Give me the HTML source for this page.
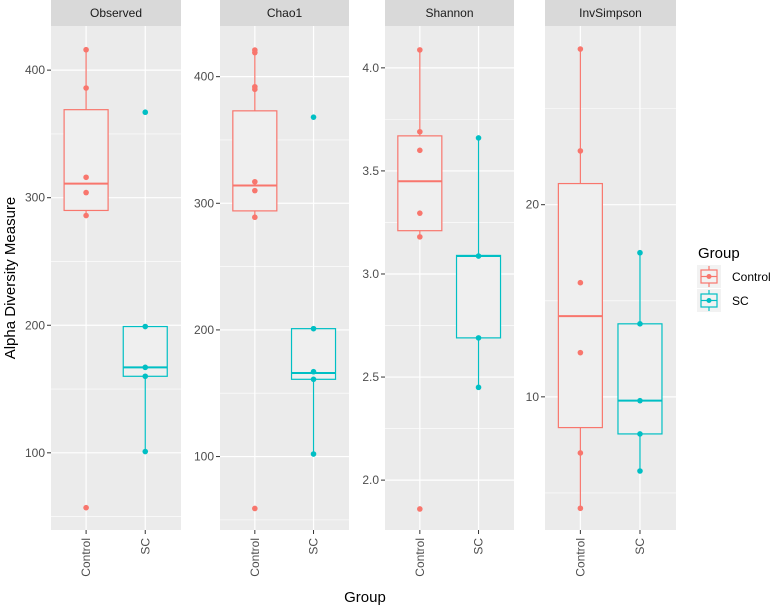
<!DOCTYPE html>
<html><head><meta charset="utf-8"><style>
body{margin:0;background:#fff;}
svg{display:block;font-family:"Liberation Sans",sans-serif;}
</style></head><body>
<svg id="chart" width="777" height="605"></svg>
<script>
const facets = ["Observed","Chao1","Shannon","InvSimpson"];
const groups = ["Control","SC"];
const obsControl = [416,386,316,304,286,57];
const obsSC = [367,199,167,160,101];
const chaoControl = [421,419,392,390,317,310,289,59];
const chaoSC = [368,201,167,161,102];
const shanControl = [4.087,3.69,3.60,3.295,3.18,1.86];
const shanSC = [3.66,3.087,2.69,2.45];
const invControl = [28.1,22.8,15.94,12.3,7.08,4.2];
const invSC = [17.5,13.8,9.8,8.07,6.14];
// box stats: [lower, median, upper, whiskerLow, whiskerHigh]
const obsBoxC = [290,311,369,286,416];
const obsBoxS = [160,167,199,101,199];
const chaoBoxC = [294,314,373,289,421];
const chaoBoxS = [161,166,201,102,201];
const shanBoxC = [3.21,3.45,3.67,3.18,4.087];
const shanBoxS = [2.69,3.087,3.09,2.45,3.66];
const invBoxC = [8.4,14.2,21.1,4.2,28.1];
const invBoxS = [8.07,9.8,13.8,6.14,17.5];
const obsTicks = [100,200,300,400];
const chaoTicks = [100,200,300,400];
const shanTicks = [2.0,2.5,3.0,3.5,4.0];
const invTicks = [10,20];
const obsRange=[39.5,434.6], chaoRange=[42,440], shanRange=[1.758,4.203], invRange=[3.07,29.3];

const NS="http://www.w3.org/2000/svg";
const svg=document.getElementById('chart');
function el(tag,attrs,parent,text){const e=document.createElementNS(NS,tag);for(const k in attrs)e.setAttribute(k,attrs[k]);if(text!==undefined)e.textContent=text;(parent||svg).appendChild(e);return e;}
const cols={Control:"#F8766D",SC:"#00BFC4"};
const panels=[
 {x0:51,x1:181,range:obsRange,ticks:obsTicks,dec:0,data:[obsControl,obsSC],box:[obsBoxC,obsBoxS]},
 {x0:220,x1:349,range:chaoRange,ticks:chaoTicks,dec:0,data:[chaoControl,chaoSC],box:[chaoBoxC,chaoBoxS]},
 {x0:385,x1:514,range:shanRange,ticks:shanTicks,dec:1,data:[shanControl,shanSC],box:[shanBoxC,shanBoxS]},
 {x0:545,x1:676,range:invRange,ticks:invTicks,dec:0,data:[invControl,invSC],box:[invBoxC,invBoxS]}
];
const plotTop=26, plotBot=530;
panels.forEach((p,i)=>{
  const g=el('g',{},svg);
  
  
  const y=v=>plotBot-(v-p.range[0])/(p.range[1]-p.range[0])*(plotBot-plotTop);
  const w=p.x1-p.x0;
  const xc=k=>p.x0+w*(0.27+0.455*k);
  el('rect',{x:p.x0,y:plotTop,width:w,height:plotBot-plotTop,fill:"#EBEBEB"},g);
  const strip=el('rect',{x:p.x0,y:0,width:w,height:plotTop,fill:"#D9D9D9"},g);
  
  
  el('text',{x:p.x0+w/2,y:17,"text-anchor":"middle","font-size":"12",fill:"#1A1A1A"},g,facets[i]);
  const tk=p.ticks, step=tk[1]-tk[0];
  for(let v=tk[0]-step/2; v<=p.range[1]; v+=step){ if(v>=p.range[0]) el('line',{x1:p.x0,x2:p.x1,y1:y(v),y2:y(v),stroke:"#fff","stroke-width":0.6},g);}
  tk.forEach(v=>{
    el('line',{x1:p.x0,x2:p.x1,y1:y(v),y2:y(v),stroke:"#fff","stroke-width":1.2},g);
    el('line',{x1:p.x0-4,x2:p.x0,y1:y(v),y2:y(v),stroke:"#333","stroke-width":1},g);
    const t=el('text',{x:p.x0-6,y:y(v)+4,"text-anchor":"end","font-size":"12",fill:"#4D4D4D"},g,v.toFixed(p.dec));
    
    
  });
  groups.forEach((gr,k)=>{
    el('line',{x1:xc(k),x2:xc(k),y1:plotTop,y2:plotBot,stroke:"#fff","stroke-width":1.2},g);
    el('line',{x1:xc(k),x2:xc(k),y1:plotBot,y2:plotBot+4,stroke:"#333"},g);
    const lab=el('text',{transform:`translate(${xc(k)+4},${plotBot+8}) rotate(-90)`,"text-anchor":"end","font-size":"12",fill:"#4D4D4D"},g,gr);
    
    
  });
  groups.forEach((gr,k)=>{
    const b=p.box[k], c=cols[gr], x=xc(k), bw=22;
    const bg=el('g',{},g);
    
    
    el('line',{x1:x,x2:x,y1:y(b[2]),y2:y(b[4]),stroke:c,"stroke-width":1.2},bg);
    el('line',{x1:x,x2:x,y1:y(b[0]),y2:y(b[3]),stroke:c,"stroke-width":1.2},bg);
    el('rect',{x:x-bw,y:y(b[2]),width:2*bw,height:y(b[0])-y(b[2]),fill:"#EFEFEF",stroke:c,"stroke-width":1.2},bg);
    el('line',{x1:x-bw,x2:x+bw,y1:y(b[1]),y2:y(b[1]),stroke:c,"stroke-width":2},bg);
    p.data[k].forEach(v=>{
      const pt=el('circle',{cx:x,cy:y(v),r:2.8,fill:c},bg);
      
      
    });
  });
});
const yt=el('text',{transform:"translate(15,278) rotate(-90)","text-anchor":"middle","font-size":"15",fill:"#000"},svg,"Alpha Diversity Measure");


const xt=el('text',{x:365,y:602,"text-anchor":"middle","font-size":"15",fill:"#000"},svg,"Group");


const lg=el('g',{},svg);


el('text',{x:698,y:258,"font-size":"15",fill:"#000"},lg,"Group");
groups.forEach((gr,k)=>{
  const y0=265+k*24, c=cols[gr];
  const e=el('g',{},lg);
  
  
  el('rect',{x:697,y:y0,width:24,height:23,fill:"#F2F2F2"},e);
  el('line',{x1:709,x2:709,y1:y0+1,y2:y0+22,stroke:c,"stroke-width":1.2},e);
  el('rect',{x:701,y:y0+5,width:16,height:13,fill:"#F2F2F2",stroke:c,"stroke-width":1.2},e);
  el('line',{x1:701,x2:717,y1:y0+11.5,y2:y0+11.5,stroke:c,"stroke-width":1.2},e);
  el('circle',{cx:709,cy:y0+11.5,r:2.5,fill:c},e);
  el('text',{x:732,y:y0+16,"font-size":"12",fill:"#000"},e,gr);
});
</script>
</body></html>
